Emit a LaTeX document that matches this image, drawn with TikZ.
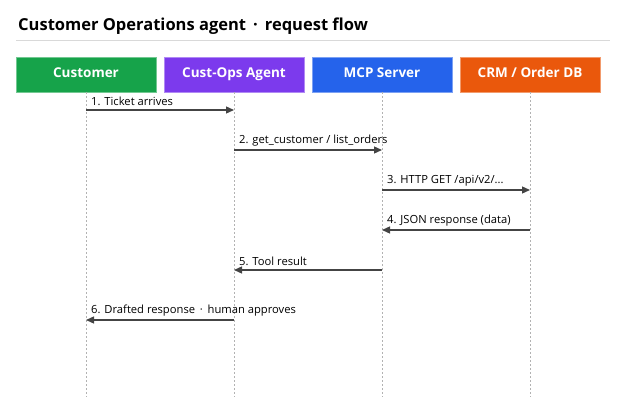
\documentclass[tikz,border=0pt]{standalone}
\usepackage{fontspec}
\setmainfont{Open Sans}
\usetikzlibrary{arrows.meta}
\definecolor{cgreen}{HTML}{16A34A}
\definecolor{cpurple}{HTML}{7C3AED}
\definecolor{cblue}{HTML}{2563EB}
\definecolor{corange}{HTML}{EA580C}
\definecolor{cline}{HTML}{444444}
\begin{document}
\begin{tikzpicture}[x=1pt,y=-1pt,
  actor/.style={draw=#1!60!white,fill=#1,minimum width=140pt,minimum height=35pt,inner sep=0pt,text height=10pt,text depth=3pt,text=white,font=\fontsize{13.5}{15}\selectfont\bfseries},
  life/.style={draw=black!30,dash pattern=on 2pt off 2pt,line width=0.5pt},
  msg/.style={draw=cline,line width=1.3pt,-{Triangle[length=8pt,width=7pt]}},
  lab/.style={font=\fontsize{11.2}{12}\selectfont,anchor=south west,inner sep=1pt}]
\useasboundingbox (0,0) rectangle (626,417);
\node[anchor=base west,inner sep=0pt,font=\fontsize{16.5}{19}\selectfont\bfseries] (title) at (18,31) {Customer Operations agent \,·\, request flow};
\draw[black!15,line width=0.8pt] (16,40) -- (610,40);
\node[actor=cgreen] (c) at (86,74.5) {Customer};
\node[actor=cpurple] (a) at (234,74.5) {Cust-Ops Agent};
\node[actor=cblue] (m) at (382,74.5) {MCP Server};
\node[actor=corange] (d) at (530,74.5) {CRM / Order DB};
\coordinate (ce) at (86,397); \coordinate (ae) at (234,397);
\coordinate (me) at (382,397); \coordinate (de) at (530,397);
\draw[life] (c.south) -- (ce); \draw[life] (a.south) -- (ae);
\draw[life] (m.south) -- (me); \draw[life] (d.south) -- (de);
\foreach \n/\x in {c/86,a/234,m/382,d/530}{
  \foreach \y in {110,150,190,230,270,320}{ \coordinate (\n\y) at (\x,\y); }}
\draw[msg] (c110) -- (a110); \node[lab] (l1) at (90,107) {1. Ticket arrives};
\draw[msg] (a150) -- (m150); \node[lab] (l2) at (238,147) {2. get\_customer / list\_orders};
\draw[msg] (m190) -- (d190); \node[lab] (l3) at (386,187) {3. HTTP GET /api/v2/...};
\draw[msg] (d230) -- (m230); \node[lab] (l4) at (386,227) {4. JSON response (data)};
\draw[msg] (m270) -- (a270); \node[lab] (l5) at (238,267) {5. Tool result};
\draw[msg] (a320) -- (c320); \node[lab] (l6) at (90,317) {6. Drafted response \,·\, human approves};
\end{tikzpicture}
\end{document}
